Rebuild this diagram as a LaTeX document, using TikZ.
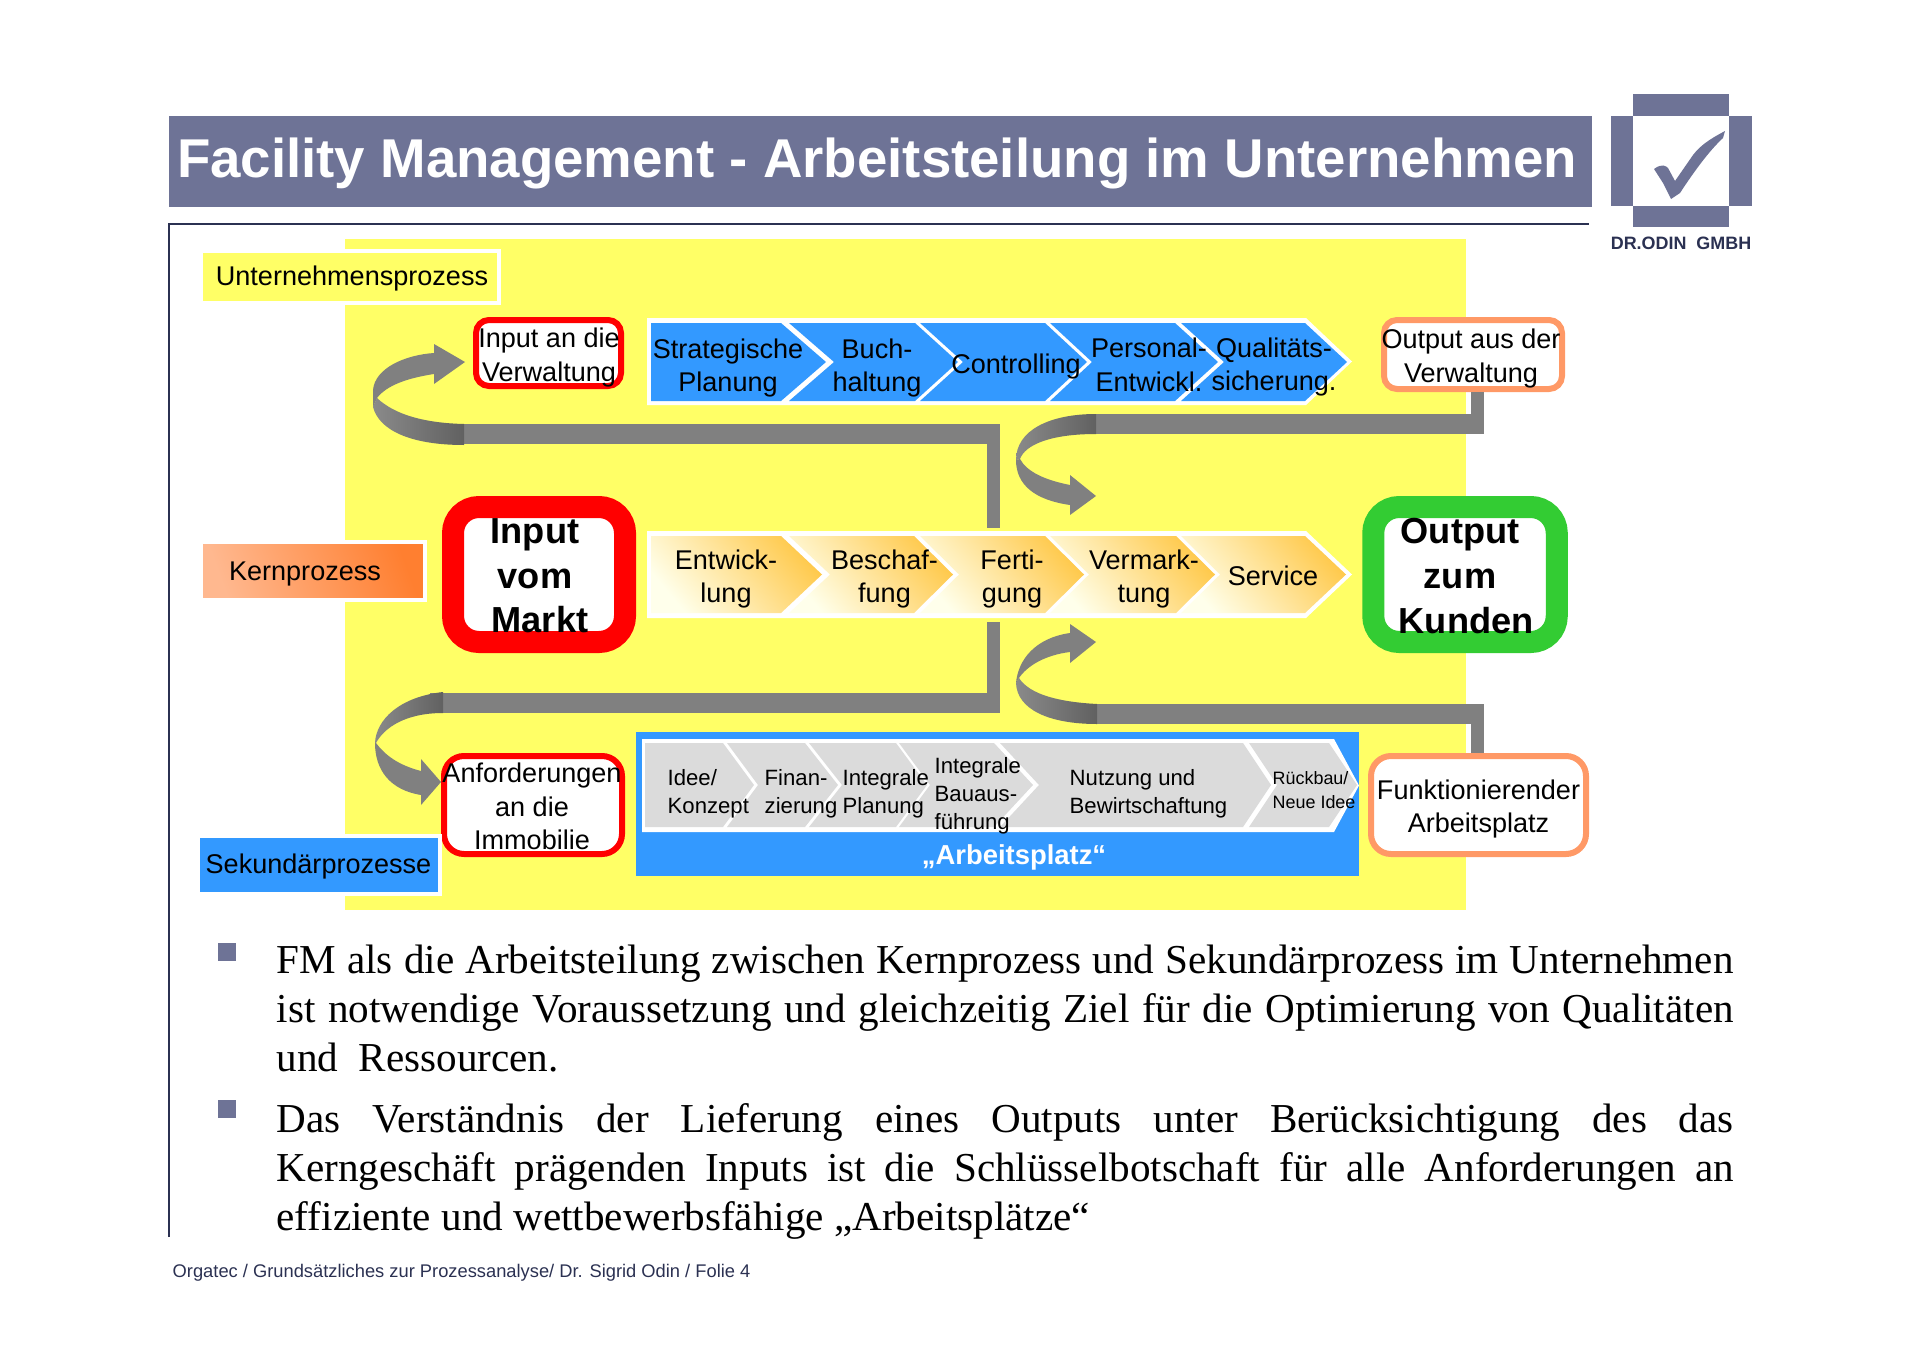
\documentclass[tikz,border=0pt]{standalone}
\usepackage{fontspec}
\setmainfont{Liberation Sans}
\newfontfamily\bodyfont{Liberation Serif}
\usetikzlibrary{arrows.meta}
\definecolor{slate}{HTML}{6E7396}
\definecolor{navy}{HTML}{2B3152}
\definecolor{procblue}{HTML}{3399FF}
\definecolor{procyel}{HTML}{FFFF66}
\definecolor{barg}{HTML}{808080}
\definecolor{boxor}{HTML}{FF9966}
\definecolor{boxgr}{HTML}{33CC33}
\definecolor{kernl}{HTML}{FFB88F}
\definecolor{kernr}{HTML}{FF7F30}
\tikzset{
  lbl/.style={font=\fontsize{7.7}{9.55}\selectfont,align=center,inner sep=0pt},
  lbs/.style={font=\fontsize{6.3}{7.9}\selectfont,align=left,inner sep=0pt},
  lbb/.style={font=\bfseries\fontsize{10.3}{12.7}\selectfont,align=center,inner sep=0pt},
  tag/.style={draw=white,line width=1.1mm/2.8},
  thinbox/.style={draw,line width=0.6mm,rounded corners=1.3mm,fill=white,minimum width=1.45cm},
  fatbox/.style={draw,line width=2.2mm,rounded corners=2.6mm,fill=white},
  hbar/.style={barg,line width=2mm},
  vbar/.style={barg,line width=1.3mm},
  chb/.style={fill=procblue},
  chy/.style={left color=yellow!8,middle color=yellow!28,right color=orange!60!yellow!70!white,shading angle=130},
  chg/.style={fill=black!14},
  para/.style={anchor=north west,inner sep=0pt,text width=14.57cm,align=justify,
    font=\bodyfont\fontsize{11.7}{13.95}\selectfont},
  bul/.style={fill=slate}
}
\newcommand{\chev}[7]{\path[#1] (#2,#4) -- (#3,#4) -- (#3+#7,{(#4+#5)/2}) -- (#3,#5) -- (#2,#5) -- (#2+#6,{(#4+#5)/2}) -- cycle;}
\newcommand{\backband}{[left color=black!46,right color=black!62]}
\begin{document}
\begin{tikzpicture}[y=-1cm]
\useasboundingbox (0,0) rectangle (19.2,13.57);
\fill[procyel] (3.45,2.39) rectangle (14.66,9.10);
\draw[navy,line width=0.18mm] (1.69,12.37) -- (1.69,2.24) -- (15.89,2.24);
\fill[slate] (1.69,1.16) rectangle (15.92,2.07);
\node[font=\bfseries\fontsize{15.55}{18}\selectfont,text=white,inner sep=0pt] (title) at (8.77,1.63) {Facility Management - Arbeitsteilung im Unternehmen};
\fill[slate] (16.33,0.94) rectangle (17.29,1.16);
\fill[slate] (16.11,1.16) rectangle (16.33,2.06);
\fill[slate] (17.29,1.16) rectangle (17.52,2.06);
\fill[slate] (16.33,2.06) rectangle (17.29,2.27);
\fill[slate] (16.54,1.69) .. controls (16.62,1.63) and (16.66,1.66) .. (16.68,1.68) -- (16.75,1.81) -- (16.93,1.55) .. controls (17.0,1.46) and (17.08,1.4) .. (17.25,1.31) -- (17.23,1.38) .. controls (17.1,1.5) and (16.95,1.7) .. (16.8,1.93) -- (16.71,1.99) -- (16.63,1.83) -- cycle;
\node[font=\bfseries\fontsize{5.1}{6}\selectfont,text=navy,inner sep=0pt] (firm) at (16.81,2.43) {DR.ODIN~~GMBH};
% labels at the left
\path[fill=procyel,tag] (2.01,2.51) rectangle (4.99,3.03);
\node[lbl] (unt) at (3.52,2.79) {Unternehmensprozess};
\path[left color=kernl,right color=kernr,shading angle=110,tag] (2.01,5.42) rectangle (4.25,6.0);
\node[lbl] (kern) at (3.05,5.74) {Kernprozess};
% bars
\coordinate (tl1) at (4.64,4.34); \coordinate (tl2) at (10,4.34);
\coordinate (tl3) at (9.935,4.24); \coordinate (tl4) at (9.935,5.28);
\coordinate (tr1) at (10.96,4.24); \coordinate (tr2) at (14.84,4.24);
\coordinate (tr3) at (14.77,4.34);
\coordinate (bl1) at (4.30,7.03); \coordinate (bl2) at (10,7.03);
\coordinate (bl3) at (9.935,6.22); \coordinate (bl4) at (9.935,7.13);
\coordinate (br1) at (10.97,7.14); \coordinate (br2) at (14.84,7.14);
\coordinate (br3) at (14.775,7.04);
\draw[hbar] (tl1) -- (tl2); \draw[vbar] (tl3) -- (tl4);
\draw[hbar] (tr1) -- (tr2);
\draw[hbar] (bl1) -- (bl2); \draw[vbar] (bl3) -- (bl4);
\draw[hbar] (br1) -- (br2);
% bent arrows
\path\backband (4.64,4.24) .. controls (4.25,4.23) and (3.95,4.15) .. (3.77,3.98) -- (3.73,4.07) .. controls (3.79,4.3) and (4.1,4.45) .. (4.64,4.45) -- cycle;
\fill[barg] (3.73,4.07) -- (3.73,3.9) .. controls (3.75,3.68) and (4.05,3.55) .. (4.34,3.53) -- (4.34,3.44) -- (4.65,3.62) -- (4.34,3.84) -- (4.34,3.74) .. controls (4.08,3.78) and (3.87,3.85) .. (3.77,3.98) -- cycle;
\path\backband (10.96,4.14) .. controls (10.5,4.14) and (10.16,4.3) .. (10.16,4.6) -- (10.2,4.59) .. controls (10.25,4.45) and (10.5,4.34) .. (10.96,4.34) -- cycle;
\fill[barg] (10.16,4.6) .. controls (10.16,4.85) and (10.35,5.0) .. (10.7,5.05) -- (10.7,5.15) -- (10.96,4.96) -- (10.7,4.75) -- (10.7,4.85) .. controls (10.45,4.8) and (10.27,4.72) .. (10.2,4.59) -- cycle;
\path\backband (4.43,6.92) .. controls (3.99,6.97) and (3.76,7.2) .. (3.75,7.43) -- (3.76,7.43) .. controls (3.84,7.28) and (4.05,7.13) .. (4.43,7.13) -- cycle;
\fill[barg] (3.75,7.43) .. controls (3.75,7.7) and (3.9,7.9) .. (4.21,7.95) -- (4.21,8.05) -- (4.41,7.82) -- (4.21,7.59) -- (4.21,7.71) .. controls (3.98,7.65) and (3.85,7.55) .. (3.76,7.43) -- cycle;
\path\backband (10.97,7.04) .. controls (10.6,7.02) and (10.3,6.95) .. (10.19,6.78) -- (10.16,6.83) .. controls (10.17,7.1) and (10.5,7.24) .. (10.97,7.24) -- cycle;
\fill[barg] (10.16,6.83) .. controls (10.18,6.6) and (10.35,6.38) .. (10.7,6.33) -- (10.7,6.24) -- (10.96,6.42) -- (10.7,6.63) -- (10.7,6.52) .. controls (10.45,6.55) and (10.27,6.66) .. (10.19,6.78) -- cycle;
% upper row
\chev{fill=white}{6.47}{13.06}{3.18}{4.05}{0}{0.46}
\chev{chb}{6.51}{7.81}{3.23}{4.01}{0}{0.45}
\chev{chb}{7.89}{9.15}{3.23}{4.01}{0.45}{0.43}
\chev{chb}{9.20}{10.45}{3.23}{4.01}{0.43}{0.42}
\chev{chb}{10.50}{11.75}{3.23}{4.01}{0.42}{0.43}
\chev{chb}{11.81}{13.05}{3.23}{4.01}{0.43}{0.42}
\node[lbl] (strat) at (7.28,3.68) {Strategische\\Planung};
\node[lbl] (buch) at (8.77,3.68) {Buch-\\haltung};
\node[lbl] (contr) at (10.16,3.67) {Controlling};
\node[lbl] (pers) at (11.49,3.65) {Personal-\\Entwickl.};
\node[lbl] (qual) at (12.74,3.67) {Qualitäts-\\sicherung.};
\node[lbl,thinbox,draw=red,minimum height=0.66cm,minimum width=1.45cm] (inv) at (5.485,3.53) {\phantom{x}};
\node[lbl] (invt) at (5.49,3.575) {Input an die\\Verwaltung};
\node[lbl,thinbox,draw=boxor,minimum height=0.69cm,minimum width=1.78cm] (outv) at (14.73,3.545) {\phantom{x}};
\node[lbl] (outvt) at (14.71,3.585) {Output aus der\\Verwaltung};
\draw[vbar] (outv.south -| tr3) -- (tr3);
% middle row
\chev{fill=white}{6.47}{13.06}{5.31}{6.18}{0}{0.46}
\chev{chy}{6.51}{7.81}{5.36}{6.13}{0}{0.41}
\chev{chy}{7.89}{9.14}{5.36}{6.13}{0.41}{0.39}
\chev{chy}{9.20}{10.45}{5.36}{6.13}{0.39}{0.39}
\chev{chy}{10.50}{11.76}{5.36}{6.13}{0.39}{0.39}
\chev{chy}{11.81}{13.05}{5.36}{6.13}{0.39}{0.41}
\node[lbl] (entw) at (7.26,5.79) {Entwick-\\lung};
\node[lbl] (besch) at (8.845,5.79) {Beschaf-\\fung};
\node[lbl] (ferti) at (10.12,5.79) {Ferti-\\gung};
\node[lbl] (verm) at (11.44,5.79) {Vermark-\\tung};
\node[lbl] (serv) at (12.73,5.76) {Service};
\node[fatbox,draw=red,minimum width=1.72cm,minimum height=1.35cm] (inm) at (5.39,5.745) {};
\node[lbb] (inmt) at (5.35,5.76) {Input\\vom\\\hspace*{2.8pt}Markt};
\node[fatbox,draw=boxgr,minimum width=1.835cm,minimum height=1.35cm] (outk) at (14.65,5.745) {};
\node[lbb] (outkt) at (14.60,5.76) {Output\\zum\\\hspace*{3.5pt}Kunden};
% lower row
\fill[procblue] (6.36,7.32) rectangle (13.59,8.76);
\chev{fill=white}{6.42}{13.34}{7.39}{8.32}{0}{0.25}
\chev{chg}{6.45}{7.23}{7.43}{8.27}{0}{0.31}
\chev{chg}{7.27}{8.05}{7.43}{8.27}{0.31}{0.33}
\chev{chg}{8.09}{8.96}{7.43}{8.27}{0.33}{0.31}
\chev{chg}{8.99}{9.94}{7.43}{8.27}{0.31}{0.39}
\chev{chg}{10.00}{12.43}{7.43}{8.27}{0.39}{0.28}
\chev{chg}{12.49}{13.29}{7.43}{8.27}{0.28}{0.28}
\node[lbs,anchor=west] (idee) at (6.67,7.935) {Idee/\\Konzept};
\node[lbs,anchor=west] (finan) at (7.64,7.935) {Finan-\\zierung};
\node[lbs,anchor=west] (plan) at (8.42,7.935) {Integrale\\Planung};
\node[lbs,anchor=west] (baua) at (9.34,7.96) {Integrale\\Bauaus-\\führung};
\node[lbs,anchor=west] (nutz) at (10.69,7.935) {Nutzung und\\Bewirtschaftung};
\node[lbs,anchor=west,font=\fontsize{5.1}{6.8}\selectfont] (rueck) at (12.72,7.90) {Rückbau/\\Neue Idee};
\node[lbl,font=\bfseries\fontsize{7.8}{9}\selectfont,text=white] (platz) at (10.14,8.575) {„Arbeitsplatz“};
\node[lbl,thinbox,draw=red,rounded corners=2mm,minimum height=0.98cm,minimum width=1.78cm] (anf) at (5.33,8.05) {\phantom{x}};
\node[lbl] (anft) at (5.32,8.065) {Anforderungen\\an die\\Immobilie};
\node[lbl,thinbox,draw=boxor,rounded corners=2mm,minimum height=0.98cm,minimum width=2.15cm] (funk) at (14.785,8.05) {\phantom{x}};
\node[lbl] (funkt) at (14.785,8.09) {Funktionierender\\Arbeitsplatz};
\draw[vbar] (funk.north -| br3) -- (br3);
\path[fill=procblue,tag] (1.98,8.36) rectangle (4.40,8.94);
\node[lbl] (sek) at (3.185,8.66) {Sekundärprozesse};
% text below
\fill[bul] (2.18,9.43) rectangle (2.36,9.61);
\node[para] (p1) at (2.76,9.44) {FM als die Arbeitsteilung zwischen Kernprozess und Sekundärprozess im Unternehmen\linebreak ist notwendige Voraussetzung und gleichzeitig Ziel für die Optimierung von Qualitäten\linebreak und~~Ressourcen.};
\fill[bul] (2.18,11.0) rectangle (2.36,11.18);
\node[para] (p2) at (2.76,11.03) {Das Verständnis der Lieferung eines Outputs unter Berücksichtigung des das\linebreak Kerngeschäft prägenden Inputs ist die Schlüsselbotschaft für alle Anforderungen an\linebreak effiziente und wettbewerbsfähige „Arbeitsplätze“};
\node[anchor=west,inner sep=0pt,font=\fontsize{5.21}{6}\selectfont,text=navy] (foot) at (1.72,12.73) {Orgatec / Grundsätzliches zur Prozessanalyse/ Dr. Sigrid Odin / Folie 4};
\end{tikzpicture}
\end{document}
